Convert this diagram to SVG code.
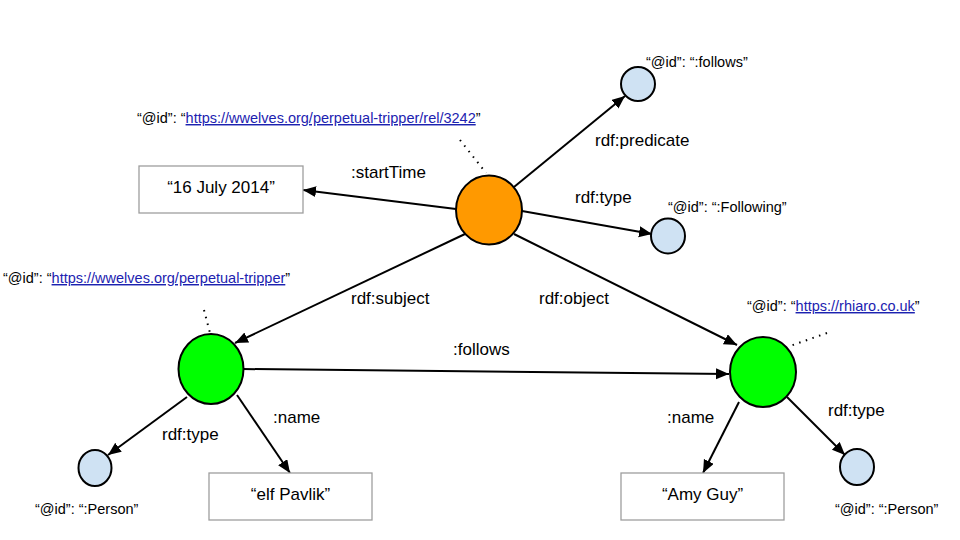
<svg xmlns="http://www.w3.org/2000/svg" width="960" height="540" viewBox="0 0 960 540">
<defs>
<marker id="arr" markerUnits="userSpaceOnUse" markerWidth="14" markerHeight="12" refX="13" refY="5.5" orient="auto">
<path d="M0,0 L13,5.5 L0,11 z" fill="#000"/>
</marker>
<style>
.edge{stroke:#000;stroke-width:2;fill:none;marker-end:url(#arr)}
.dot{stroke:#000;stroke-width:2;fill:none;stroke-dasharray:1.5 5.5}
.lbl{font-family:"Liberation Sans",Arial,sans-serif;font-size:17px;fill:#000}
.sm{font-family:"Liberation Sans",Arial,sans-serif;font-size:14.5px;fill:#000}
.lnk{fill:#1c22b0;text-decoration:underline}
.box{fill:#fff;stroke:#9e9e9e;stroke-width:1.3}
.res{stroke:#000;stroke-width:2}
.cls{fill:#cfe2f3;stroke:#000;stroke-width:2}
</style>
</defs>
<rect width="960" height="540" fill="#fff"/>
<g id="connectors">
<line class="edge" x1="456" y1="209" x2="303" y2="190"/>
<line class="edge" x1="514" y1="187" x2="625" y2="96"/>
<line class="edge" x1="522" y1="211" x2="652" y2="234"/>
<line class="edge" x1="465" y1="234" x2="235" y2="343"/>
<line class="edge" x1="514" y1="234" x2="737" y2="345"/>
<line class="edge" x1="243" y1="369" x2="729" y2="374"/>
<line class="edge" x1="187" y1="397" x2="108" y2="455"/>
<line class="edge" x1="237" y1="395" x2="290" y2="473"/>
<line class="edge" x1="739" y1="402" x2="703" y2="473"/>
<line class="edge" x1="787" y1="397" x2="845" y2="455"/>
<line class="dot" x1="460" y1="140" x2="486" y2="173"/>
<line class="dot" x1="204" y1="310" x2="210" y2="333"/>
<line class="dot" x1="827" y1="333" x2="790" y2="346"/>
<text class="lbl" x="351" y="178">:startTime</text>
<text class="lbl" x="595" y="146">rdf:predicate</text>
<text class="lbl" x="575" y="203">rdf:type</text>
<text class="lbl" x="351" y="304">rdf:subject</text>
<text class="lbl" x="539" y="304">rdf:object</text>
<text class="lbl" x="453" y="355">:follows</text>
<text class="lbl" x="162" y="440">rdf:type</text>
<text class="lbl" x="273" y="423">:name</text>
<text class="lbl" x="667" y="423">:name</text>
<text class="lbl" x="828" y="416">rdf:type</text>
</g>
<g id="rel">
<ellipse class="res" cx="489" cy="210" rx="33" ry="34.5" fill="#ff9900"/>
<text class="sm" x="137" y="123">“@id”: “<tspan class="lnk">https://wwelves.org/perpetual-tripper/rel/3242</tspan>”</text>
</g>
<g id="elf">
<ellipse class="res" cx="211" cy="369" rx="32.5" ry="35" fill="#00ff00"/>
<text class="sm" x="3" y="283">“@id”: “<tspan class="lnk">https://wwelves.org/perpetual-tripper</tspan>”</text>
</g>
<g id="amy">
<ellipse class="res" cx="763" cy="372" rx="33" ry="35" fill="#00ff00"/>
<text class="sm" x="747" y="311">“@id”: “<tspan class="lnk">https://rhiaro.co.uk</tspan>”</text>
</g>
<g id="start-time">
<rect class="box" x="139" y="166" width="164" height="47"/>
<text class="lbl" x="221" y="193" text-anchor="middle">“16 July 2014”</text>
</g>
<g id="elf-name">
<rect class="box" x="209" y="473" width="163" height="47"/>
<text class="lbl" x="290.5" y="500" text-anchor="middle">“elf Pavlik”</text>
</g>
<g id="amy-name">
<rect class="box" x="621" y="473" width="163" height="47"/>
<text class="lbl" x="702.5" y="500" text-anchor="middle">“Amy Guy”</text>
</g>
<g id="follows">
<ellipse class="cls" cx="638" cy="84" rx="17" ry="17"/>
<text class="sm" x="646" y="67">“@id”: “:follows”</text>
</g>
<g id="following">
<ellipse class="cls" cx="668" cy="236" rx="17" ry="17.5"/>
<text class="sm" x="668" y="212">“@id”: “:Following”</text>
</g>
<g id="person-left">
<ellipse class="cls" cx="95" cy="468" rx="16.5" ry="18"/>
<text class="sm" x="35" y="514">“@id”: “:Person”</text>
</g>
<g id="person-right">
<ellipse class="cls" cx="857" cy="467" rx="17" ry="18"/>
<text class="sm" x="835" y="514">“@id”: “:Person”</text>
</g>
</svg>
